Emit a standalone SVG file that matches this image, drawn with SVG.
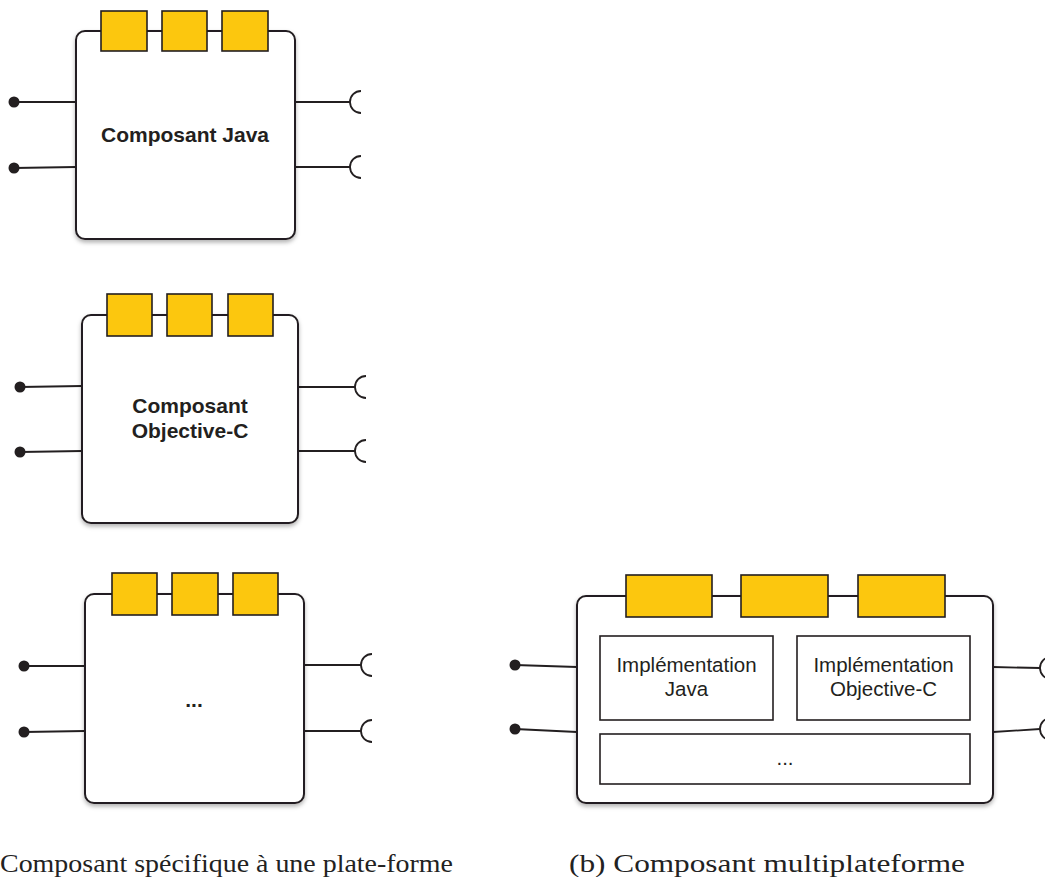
<svg xmlns="http://www.w3.org/2000/svg" width="1045" height="877" viewBox="0 0 1045 877">
<style>
.box{fill:#fff;stroke:#231f20;stroke-width:2;filter:url(#sh)}
.ybox{fill:#fcc70e;stroke:#231f20;stroke-width:1.6}
.inner{fill:#fff;stroke:#231f20;stroke-width:1.6}
.wire{fill:none;stroke:#231f20;stroke-width:1.8}
.dot{fill:#231f20}
.lbl{font-family:"Liberation Sans",Arial,sans-serif;font-weight:bold;font-size:21px;fill:#231f20;text-anchor:middle}
.lbl2{font-family:"Liberation Sans",Arial,sans-serif;font-size:20.5px;fill:#231f20;text-anchor:middle}
.cap{font-family:"Liberation Serif","Times New Roman",serif;font-size:26px;fill:#222}
</style>
<defs>
<filter id="sh" x="-10%" y="-10%" width="120%" height="120%">
<feDropShadow dx="0" dy="2.5" stdDeviation="2" flood-color="#000" flood-opacity="0.3"/>
</filter>
</defs>
<rect width="1045" height="877" fill="#fff"/>

<g id="connectors">
<!-- panel 1 -->
<line class="wire" x1="14" y1="102" x2="76" y2="102"/>
<circle class="dot" cx="14" cy="102" r="5.5"/>
<line class="wire" x1="14" y1="168" x2="76" y2="167"/>
<circle class="dot" cx="14" cy="168" r="5.5"/>
<line class="wire" x1="295" y1="102" x2="350" y2="102"/>
<path class="wire" d="M361,91 A11,11 0 0 0 361,113"/>
<line class="wire" x1="295" y1="167" x2="350" y2="167"/>
<path class="wire" d="M361,156 A11,11 0 0 0 361,178"/>
<!-- panel 2 -->
<line class="wire" x1="20" y1="387" x2="82" y2="386"/>
<circle class="dot" cx="20" cy="387" r="5.5"/>
<line class="wire" x1="20" y1="452" x2="82" y2="451"/>
<circle class="dot" cx="20" cy="452" r="5.5"/>
<line class="wire" x1="298" y1="387" x2="355" y2="387"/>
<path class="wire" d="M366,376 A11,11 0 0 0 366,398"/>
<line class="wire" x1="298" y1="451" x2="355" y2="451"/>
<path class="wire" d="M366,440 A11,11 0 0 0 366,462"/>
<!-- panel 3 -->
<line class="wire" x1="24" y1="666" x2="85" y2="666"/>
<circle class="dot" cx="24" cy="666" r="5.5"/>
<line class="wire" x1="24" y1="732" x2="85" y2="731"/>
<circle class="dot" cx="24" cy="732" r="5.5"/>
<line class="wire" x1="304" y1="665" x2="361" y2="665"/>
<path class="wire" d="M372,654 A11,11 0 0 0 372,676"/>
<line class="wire" x1="304" y1="731" x2="361" y2="731"/>
<path class="wire" d="M372,720 A11,11 0 0 0 372,742"/>
<!-- panel 4 -->
<line class="wire" x1="515" y1="665" x2="577" y2="667"/>
<circle class="dot" cx="515" cy="665" r="5.5"/>
<line class="wire" x1="515" y1="729" x2="577" y2="732"/>
<circle class="dot" cx="515" cy="729" r="5.5"/>
<line class="wire" x1="993" y1="667" x2="1040" y2="668"/>
<path class="wire" d="M1051,657 A11,11 0 0 0 1051,679"/>
<line class="wire" x1="993" y1="732" x2="1040" y2="729"/>
<path class="wire" d="M1051,718 A11,11 0 0 0 1051,740"/>
</g>

<g id="composant-java">
<rect class="box" x="76" y="31" width="219" height="208" rx="9"/>
<rect class="ybox" x="101" y="11" width="46" height="40"/>
<rect class="ybox" x="162" y="11" width="45" height="40"/>
<rect class="ybox" x="222" y="11" width="46" height="40"/>
<text class="lbl" x="185" y="142">Composant Java</text>
</g>

<g id="composant-objc">
<rect class="box" x="82" y="315" width="216" height="208" rx="9"/>
<rect class="ybox" x="107" y="294" width="45" height="42"/>
<rect class="ybox" x="167" y="294" width="45" height="42"/>
<rect class="ybox" x="228" y="294" width="45" height="42"/>
<text class="lbl" x="190" y="413">Composant</text>
<text class="lbl" x="190" y="438">Objective-C</text>
</g>

<g id="composant-autre">
<rect class="box" x="85" y="594" width="219" height="209" rx="9"/>
<rect class="ybox" x="112" y="573" width="45" height="42"/>
<rect class="ybox" x="172" y="573" width="46" height="42"/>
<rect class="ybox" x="233" y="573" width="45" height="42"/>
<text class="lbl" x="194" y="707">...</text>
</g>

<g id="composant-multi">
<rect class="box" x="577" y="596" width="416" height="207" rx="9"/>
<rect class="ybox" x="626" y="575" width="86" height="42"/>
<rect class="ybox" x="741" y="575" width="87" height="42"/>
<rect class="ybox" x="858" y="575" width="87" height="42"/>
<g id="impl-java">
<rect class="inner" x="600" y="636" width="173" height="84"/>
<text class="lbl2" x="686.5" y="672">Implémentation</text>
<text class="lbl2" x="686.5" y="696">Java</text>
</g>
<g id="impl-objc">
<rect class="inner" x="797" y="636" width="173" height="84"/>
<text class="lbl2" x="883.5" y="672">Implémentation</text>
<text class="lbl2" x="883.5" y="696">Objective-C</text>
</g>
<g id="impl-autre">
<rect class="inner" x="600" y="734" width="370" height="50"/>
<text class="lbl2" x="785" y="765">...</text>
</g>
</g>

<g id="captions">
<text class="cap" x="0" y="872" textLength="453" lengthAdjust="spacingAndGlyphs">Composant spécifique à une plate-forme</text>
<text class="cap" x="569" y="872" textLength="396" lengthAdjust="spacingAndGlyphs">(b) Composant multiplateforme</text>
</g>
</svg>
